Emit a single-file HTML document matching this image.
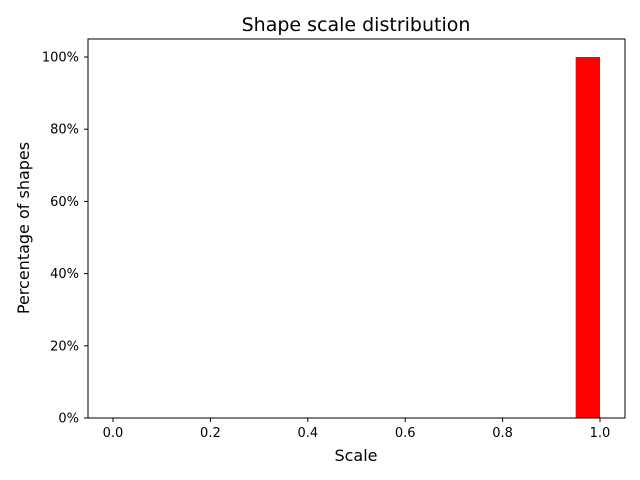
<!DOCTYPE html>
<html><head><meta charset="utf-8"><style>
body{margin:0;background:#fff;}
svg{display:block;font-family:"DejaVu Sans","Liberation Sans",sans-serif;}
</style></head><body>
<svg id="chart" width="640" height="480">
<text x="356" y="31" font-size="19" text-anchor="middle">Shape scale distribution</text>
<text x="356" y="461" font-size="16" text-anchor="middle">Scale</text>
<text transform="translate(29,228) rotate(-90)" font-size="16" text-anchor="middle">Percentage of shapes</text>
<g id="bars"></g>
<g id="xticks"></g>
<g id="yticks"></g>
<rect x="88" y="39" width="537" height="379" fill="none" stroke="#000" stroke-width="1"/>
</svg>
<script>
const binEdges = [0,0.05,0.1,0.15,0.2,0.25,0.3,0.35,0.4,0.45,0.5,0.55,0.6,0.65,0.7,0.75,0.8,0.85,0.9,0.95,1.0];
const percentages = [0,0,0,0,0,0,0,0,0,0,0,0,0,0,0,0,0,0,0,100];
const xTickValues = [0,0.2,0.4,0.6,0.8,1.0];
const xTickLabels = ["0.0","0.2","0.4","0.6","0.8","1.0"];
const yTickValues = [0,20,40,60,80,100];
const yTickLabels = ["0%","20%","40%","60%","80%","100%"];
const NS="http://www.w3.org/2000/svg";
function xs(v){return 113+v*487;}
function ys(v){return 418-v*3.61;}
const bars=document.getElementById('bars');
percentages.forEach((p,i)=>{
  if(p<=0)return;
  const r=document.createElementNS(NS,'rect');
  r.setAttribute('x',xs(binEdges[i]));
  r.setAttribute('width',xs(binEdges[i+1])-xs(binEdges[i]));
  r.setAttribute('y',ys(p));
  r.setAttribute('height',ys(0)-ys(p));
  r.setAttribute('fill','#ff0000');
  
  
  bars.appendChild(r);
});
const xg=document.getElementById('xticks');
xTickValues.forEach((v,i)=>{
  const x=xs(v);
  const l=document.createElementNS(NS,'line');
  l.setAttribute('x1',x);l.setAttribute('x2',x);l.setAttribute('y1',418);l.setAttribute('y2',422);l.setAttribute('stroke','#000');
  
  
  xg.appendChild(l);
  const t=document.createElementNS(NS,'text');
  t.setAttribute('x',x);t.setAttribute('y',437);t.setAttribute('font-size','13');t.setAttribute('text-anchor','middle');
  t.textContent=xTickLabels[i];
  
  
  xg.appendChild(t);
});
const yg=document.getElementById('yticks');
yTickValues.forEach((v,i)=>{
  const y=ys(v);
  const l=document.createElementNS(NS,'line');
  l.setAttribute('x1',84);l.setAttribute('x2',88);l.setAttribute('y1',y);l.setAttribute('y2',y);l.setAttribute('stroke','#000');
  
  
  yg.appendChild(l);
  const t=document.createElementNS(NS,'text');
  t.setAttribute('x',79);t.setAttribute('y',y+4.5);t.setAttribute('font-size','13');t.setAttribute('text-anchor','end');
  t.textContent=yTickLabels[i];
  
  
  yg.appendChild(t);
});
</script>
</body></html>
